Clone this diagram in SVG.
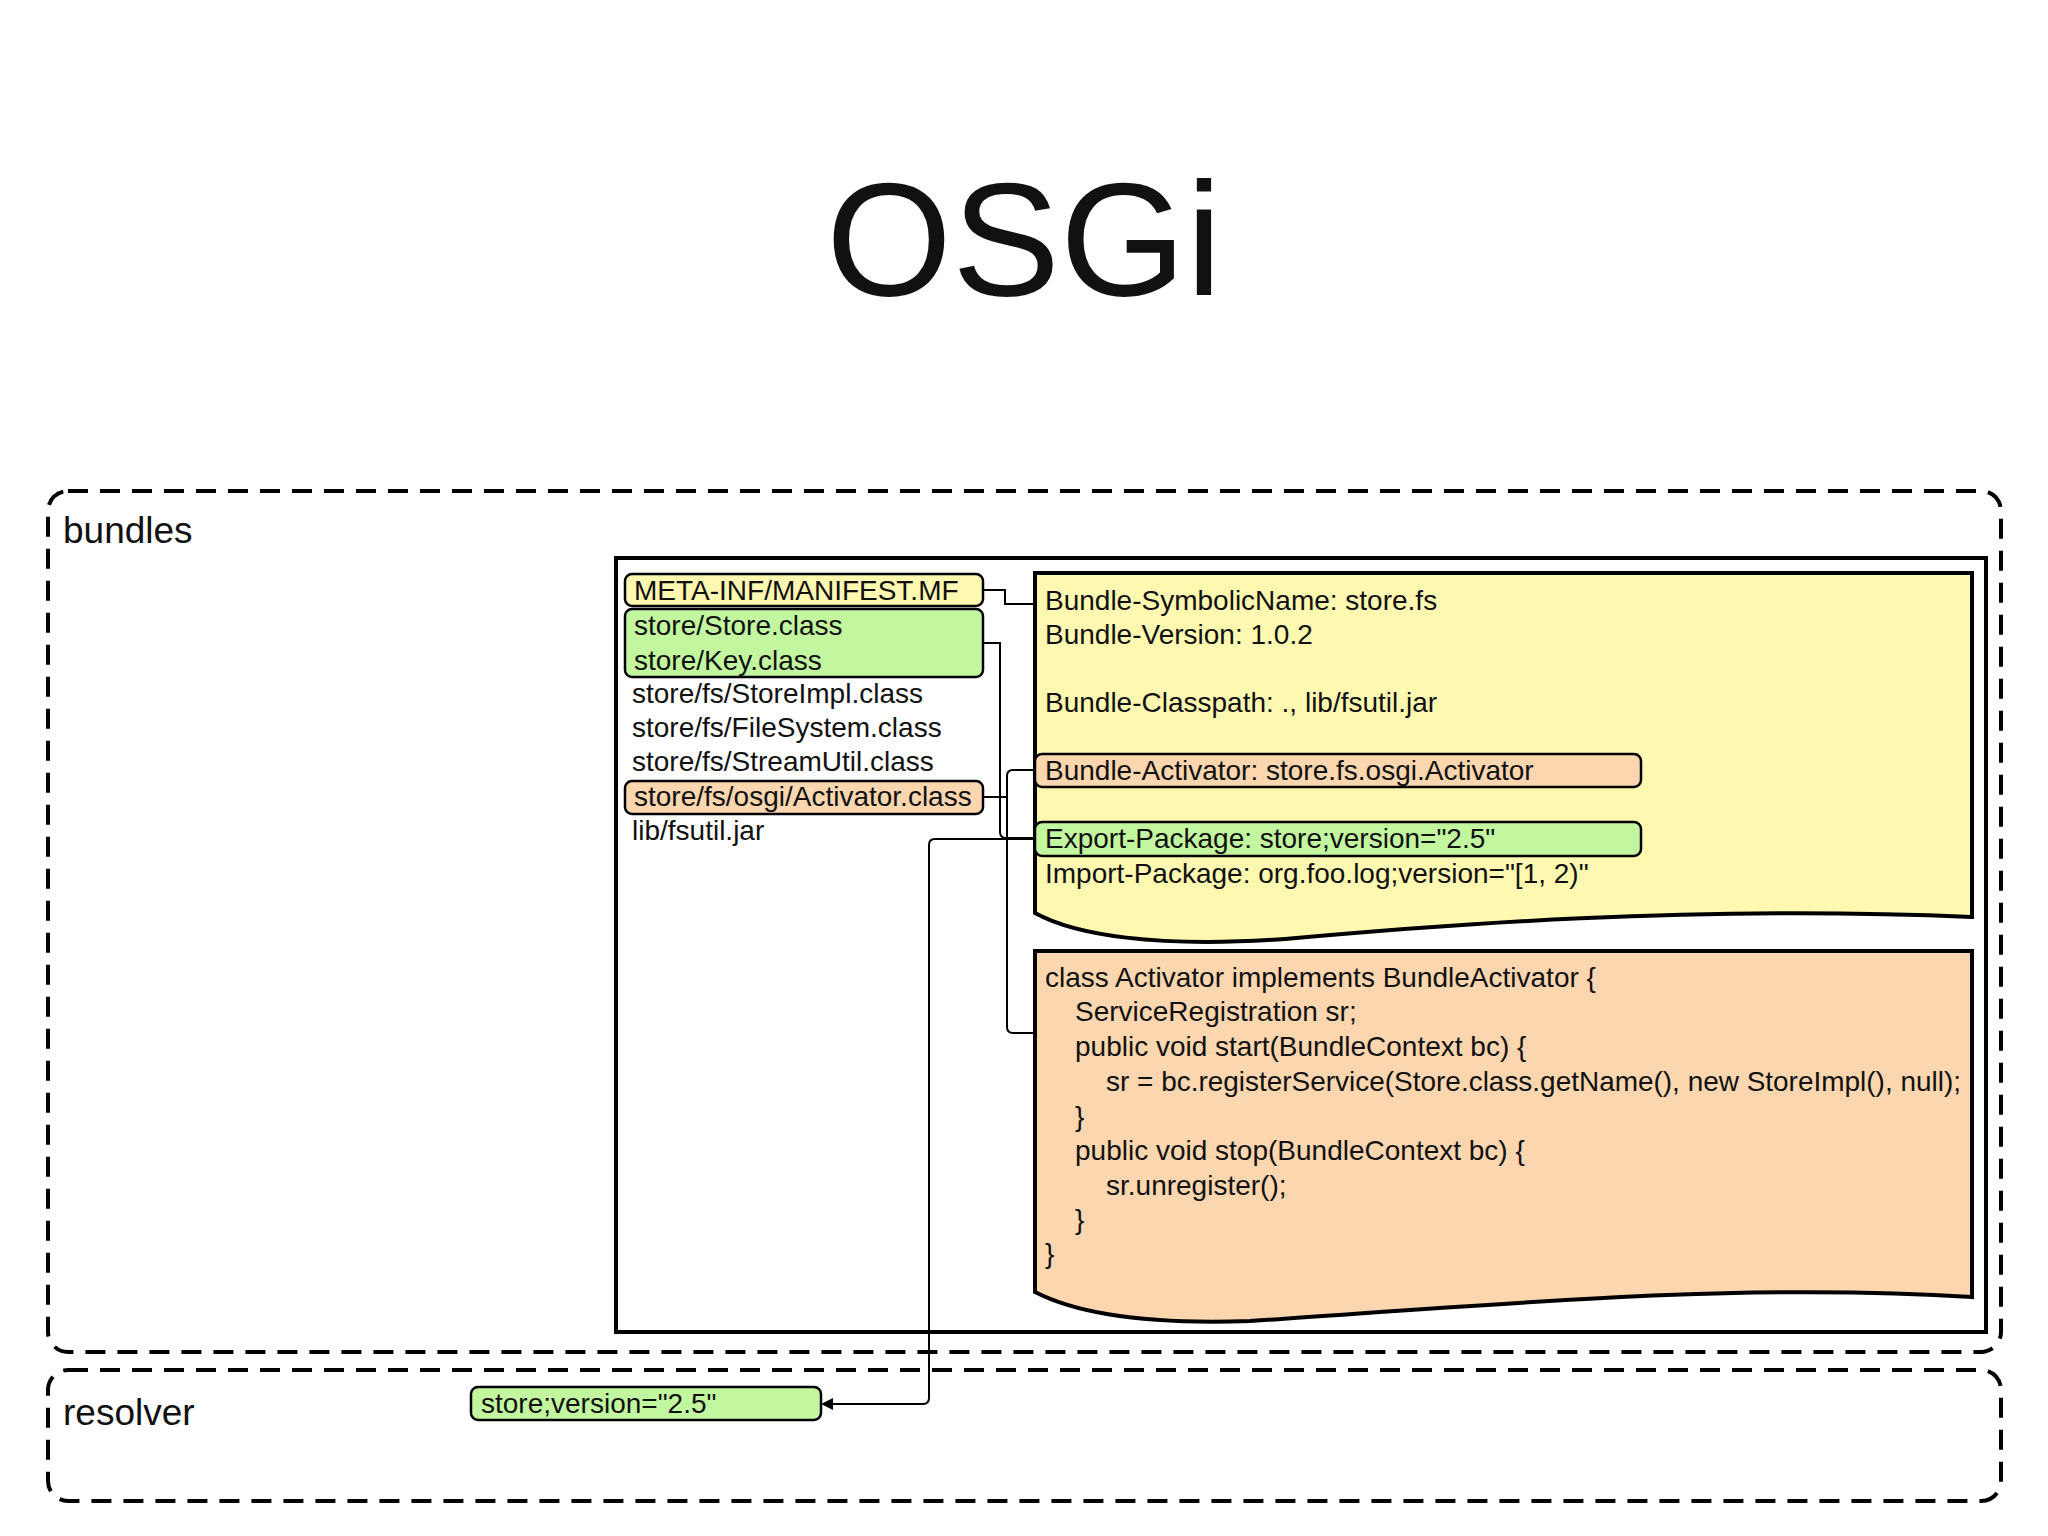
<svg xmlns="http://www.w3.org/2000/svg" width="2048" height="1536" viewBox="0 0 2048 1536">
<defs>
<style>
text{font-family:"Liberation Sans",Arial,sans-serif;fill:#111}
.t{font-size:28px}
.dash{fill:none;stroke:#000;stroke-width:4;stroke-dasharray:20 12}
.box{stroke:#000;stroke-width:2.5}
.y{fill:#fff8b0}.g{fill:#c2f7a0}.o{fill:#fcd6ae}
.c{fill:none;stroke:#000;stroke-width:2}
</style>
<marker id="ah" markerWidth="12" markerHeight="12" refX="10" refY="6" orient="auto" markerUnits="userSpaceOnUse"><path d="M0,0 L12,6 L0,12 z" fill="#000"/></marker>
</defs>
<rect width="2048" height="1536" fill="#fff"/>
<text x="1024" y="295" font-size="162" text-anchor="middle">OSGi</text>
<g id="bundles"><rect class="dash" x="48" y="491" width="1953" height="861" rx="20"/><text x="63" y="543" font-size="37">bundles</text></g>
<g id="resolver"><rect class="dash" x="48" y="1370" width="1953" height="131" rx="20"/><text x="63" y="1425" font-size="37">resolver</text></g>
<g id="jar"><rect x="616" y="558" width="1370" height="774" fill="#fff" stroke="#000" stroke-width="4"/></g>
<g id="manifest-doc"><path class="y" stroke="#000" stroke-width="4" d="M1035,573 H1972 V917 C1690,905 1440,925 1285,939 C1155,948 1075,935 1035,913 Z"/>
<text class="t" x="1045" y="610">Bundle-SymbolicName: store.fs</text>
<text class="t" x="1045" y="644">Bundle-Version: 1.0.2</text>
<text class="t" x="1045" y="712">Bundle-Classpath: ., lib/fsutil.jar</text>
<text class="t" x="1045" y="883">Import-Package: org.foo.log;version="[1, 2)"</text></g>
<g id="bundle-activator"><rect class="box o" x="1035" y="754" width="606" height="33" rx="7"/><text class="t" x="1045" y="780">Bundle-Activator: store.fs.osgi.Activator</text></g>
<g id="export-package"><rect class="box g" x="1035" y="822" width="606" height="34" rx="7"/><text class="t" x="1045" y="848">Export-Package: store;version="2.5"</text></g>
<g id="code-doc"><path class="o" stroke="#000" stroke-width="4" d="M1035,951 H1972 V1297 C1740,1282 1490,1305 1250,1321 C1135,1325 1070,1310 1035,1292 Z"/>
<text class="t" x="1045" y="987">class Activator implements BundleActivator {</text>
<text class="t" x="1075" y="1021">ServiceRegistration sr;</text>
<text class="t" x="1075" y="1056">public void start(BundleContext bc) {</text>
<text class="t" x="1106" y="1091" textLength="855" lengthAdjust="spacingAndGlyphs">sr = bc.registerService(Store.class.getName(), new StoreImpl(), null);</text>
<text class="t" x="1075" y="1126">}</text>
<text class="t" x="1075" y="1160">public void stop(BundleContext bc) {</text>
<text class="t" x="1106" y="1195">sr.unregister();</text>
<text class="t" x="1075" y="1229">}</text>
<text class="t" x="1045" y="1263">}</text></g>
<g id="manifest-entry"><rect class="box y" x="625" y="574" width="358" height="32" rx="7"/><text class="t" x="634" y="600">META-INF/MANIFEST.MF</text></g>
<g id="store-api"><rect class="box g" x="625" y="609" width="358" height="68" rx="7"/><text class="t" x="634" y="635">store/Store.class</text><text class="t" x="634" y="670">store/Key.class</text></g>
<g id="files"><text class="t" x="632" y="703">store/fs/StoreImpl.class</text><text class="t" x="632" y="737">store/fs/FileSystem.class</text><text class="t" x="632" y="771">store/fs/StreamUtil.class</text><text class="t" x="632" y="840">lib/fsutil.jar</text></g>
<g id="activator-class"><rect class="box o" x="625" y="781" width="358" height="33" rx="7"/><text class="t" x="634" y="806">store/fs/osgi/Activator.class</text></g>
<g id="resolver-entry"><rect class="box g" x="471" y="1387" width="350" height="33" rx="7"/><text class="t" x="481" y="1413">store;version="2.5"</text></g>
<g id="connectors">
<path class="c" d="M983,590 H1005 V604 H1035"/>
<path class="c" d="M983,643 H1000 V832 Q1000,838 1006,838 H1035"/>
<path class="c" d="M983,797 H1007"/>
<path class="c" d="M1035,770 H1013 Q1007,770 1007,776 V1027 Q1007,1033 1013,1033 H1035"/>
<path class="c" d="M1035,839 H935 Q929,839 929,845 V1398 Q929,1404 923,1404 H823" marker-end="url(#ah)"/>
</g>
</svg>
